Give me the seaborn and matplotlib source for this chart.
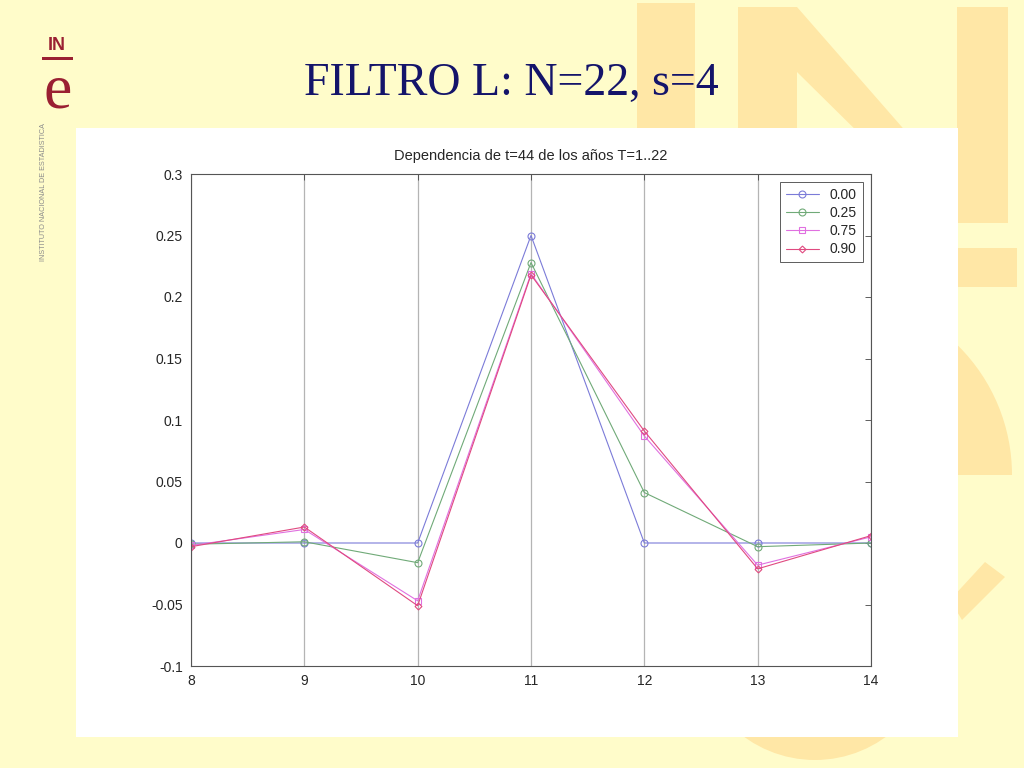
import numpy as np
import pandas as pd
import matplotlib
matplotlib.use('Agg')
import matplotlib.pyplot as plt
from matplotlib.patches import Rectangle, Polygon, Wedge
import seaborn as sns

# datos
x_vals = [8, 9, 10, 11, 12, 13, 14]
y_000 = [0.000, 0.000, 0.000, 0.250, 0.000, 0.000, 0.000]
y_025 = [-0.001, 0.001, -0.016, 0.228, 0.041, -0.003, 0.000]
y_075 = [-0.002, 0.011, -0.047, 0.219, 0.087, -0.018, 0.005]
y_090 = [-0.003, 0.013, -0.051, 0.218, 0.091, -0.021, 0.006]
series_labels = ['0.00', '0.25', '0.75', '0.90']
y_ticks = [-0.1, -0.05, 0, 0.05, 0.1, 0.15, 0.2, 0.25, 0.3]
y_tick_labels = ['-0.1', '-0.05', '0', '0.05', '0.1', '0.15', '0.2', '0.25', '0.3']

colores = ['#7b7bd8', '#70aa78', '#e070e0', '#e04a80']
marcadores = ['o', 'o', 's', 'D']

sns.set_style('white')
plt.rcParams['font.family'] = ['Liberation Sans', 'DejaVu Sans']

W, H = 1024, 768
fig = plt.figure(figsize=(W / 100, H / 100), dpi=100)
fig.patch.set_facecolor('#fffcca')

# fondo decorativo (marca de agua INE) en coordenadas de píxel (y hacia abajo)
bg = fig.add_axes([0, 0, 1, 1], zorder=0)
bg.set_xlim(0, W)
bg.set_ylim(H, 0)
bg.axis('off')
marca = '#ffe7a6'
bg.add_patch(Rectangle((637, 3), 58, 400, color=marca, lw=0))
bg.add_patch(Polygon([(738, 7), (797, 7), (957, 190), (957, 7), (1008, 7),
                      (1008, 223), (950, 223), (797, 72), (797, 223), (738, 223)],
                     closed=True, color=marca, lw=0))
bg.add_patch(Rectangle((700, 248), 317, 39, color=marca, lw=0))
bg.add_patch(Wedge((830, 475), 182, 270, 360, color=marca, lw=0))
bg.add_patch(Polygon([(985, 562), (1005, 577), (962, 620), (950, 600)],
                     closed=True, color=marca, lw=0))
bg.add_patch(Wedge((815, 640), 120, 0, 180, color=marca, lw=0))

# panel blanco
bg.add_patch(Rectangle((76, 128), 882, 609, color='white', lw=0))

# logo
rojo = '#9a2032'
fig.text(57 / W, 1 - 45 / H, 'IN', color=rojo, fontsize=13, fontweight='bold',
         ha='center', va='center', family='Liberation Sans')
bg.add_patch(Rectangle((42, 57), 31, 3, color=rojo, lw=0))
fig.text(58 / W, 1 - 92 / H, 'e', color=rojo, fontsize=46,
         ha='center', va='center', family='Liberation Serif')
fig.text(44 / W, 1 - 192 / H, 'INSTITUTO NACIONAL DE ESTADISTICA', color='#8a8a8a',
         fontsize=5.2, rotation=90, ha='center', va='center')

# título de la diapositiva
fig.text(511 / W, 1 - 84 / H, 'FILTRO L: N=22, s=4', color='#14146a',
         fontsize=33, ha='center', va='center', family='Liberation Serif')

# gráfico principal
ax = fig.add_axes([191 / W, 1 - 666 / H, 680 / W, 492 / H], zorder=2)
ax.set_facecolor('white')

datos = [y_000, y_025, y_075, y_090]
for ys, lab, col, mk in zip(datos, series_labels, colores, marcadores):
    sns.lineplot(x=x_vals, y=ys, ax=ax, color=col, marker=mk, markersize=5 if mk != 'D' else 3.5,
                 mfc='none', mec=col, mew=0.8, linewidth=0.8, label=lab)

ax.set_xlim(8, 14)
ax.set_ylim(-0.1, 0.3)
ax.set_xticks(x_vals)
ax.set_xticklabels([str(v) for v in x_vals])
ax.set_yticks(y_ticks)
ax.set_yticklabels(y_tick_labels)
ax.tick_params(direction='in', length=4, width=0.6, color='#444444',
               labelsize=10, top=True, right=True, pad=6)
ax.xaxis.grid(True, color='#b4b4b4', linewidth=0.9)
ax.yaxis.grid(False)
for sp in ax.spines.values():
    sp.set_color('#555555')
    sp.set_linewidth(0.8)
ax.set_title('Dependencia de t=44 de los años T=1..22', fontsize=10.5, pad=10)

leg = ax.legend(loc='upper right', fontsize=10, frameon=True, fancybox=False,
                edgecolor='#333333', handlelength=2.4, borderaxespad=0.6,
                labelspacing=0.3, borderpad=0.4)
leg.get_frame().set_linewidth(0.7)

fig.savefig('out.png', dpi=100, facecolor=fig.get_facecolor())
